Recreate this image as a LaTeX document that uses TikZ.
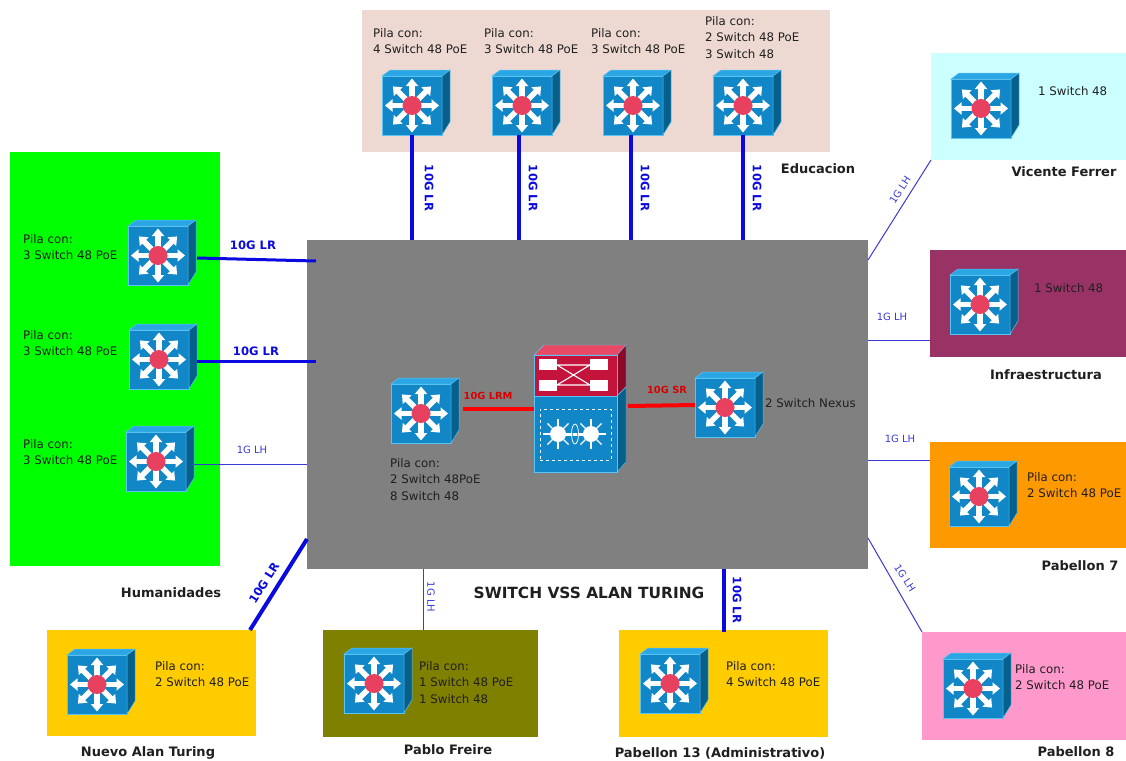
\documentclass[tikz,border=0pt]{standalone}
\usepackage{fontspec}
\setmainfont{DejaVu Sans}
\usetikzlibrary{arrows.meta}
\definecolor{swf}{HTML}{1287C7}
\definecolor{swt}{HTML}{2BA6E4}
\definecolor{sws}{HTML}{075F8C}
\definecolor{swe}{HTML}{5CC4F2}
\definecolor{hub}{HTML}{E8405F}
\definecolor{redf}{HTML}{C4143C}
\definecolor{redt}{HTML}{E84A66}
\definecolor{reds}{HTML}{8A0A28}
\definecolor{txtd}{HTML}{1F1F1F}
\definecolor{lineb}{HTML}{0A0AE0}
\definecolor{linet}{HTML}{3A3AD8}
\tikzset{
  x=1pt,y=-1pt,
  zone/.style={draw=none,inner sep=0,outer sep=0,anchor=north west},
  swnode/.style={draw=swe,line width=.8pt,fill=swf,minimum width=60pt,minimum height=59pt,inner sep=0,outer sep=0,anchor=north west},
  stk/.style={font=\fontsize{11.8}{16.5}\selectfont,text=txtd,align=left,anchor=north west,inner sep=0},
  ttl/.style={font=\bfseries\fontsize{13}{15}\selectfont,text=txtd,inner sep=0},
  spd/.style={font=\bfseries\fontsize{11.6}{13}\selectfont,text=lineb,inner sep=0},
  spdt/.style={font=\fontsize{10}{12}\selectfont,text=linet,inner sep=0},
  spdr/.style={font=\bfseries\fontsize{9.8}{12}\selectfont,text=red!85!black,inner sep=0},
  thick10/.style={draw=lineb,line width=4pt},
  mid10/.style={draw=lineb,line width=3pt},
  thin1/.style={draw=linet,line width=1pt},
  redl/.style={draw=red,line width=4pt},
  arw/.style={draw=white,line width=5.4pt,-{Triangle[width=12pt,length=7.5pt]}},
}
\newcommand{\swdev}[3]{%
  \node[swnode] (#1) at (#2,#3) {};
  \fill[swt,draw=swe,line width=.5pt] (#1.north west) -- ++(8,-6) -- ++(60,0) -- (#1.north east) -- cycle;
  \fill[sws,draw=swe,line width=.5pt] (#1.north east) -- ++(8,-6) -- ++(0,52) -- (#1.south east) -- cycle;
  \foreach \a in {0,45,...,315}{
    \draw[arw] (#1.center) -- ++(\a:27);
  }
  \fill[hub] (#1.center) circle (9.5pt);
}
\begin{document}
\begin{tikzpicture}
\useasboundingbox (0,0) rectangle (1126,760);
\fill[white] (0,0) rectangle (1126,760);
% zones
\node[zone,fill={rgb,255:red,238;green,217;blue,210},minimum width=468pt,minimum height=142pt] (zedu) at (362,10) {};
\node[zone,fill={rgb,255:red,0;green,255;blue,0},minimum width=210pt,minimum height=414pt] (zhum) at (10,152) {};
\node[zone,fill={rgb,255:red,204;green,255;blue,255},minimum width=195pt,minimum height=107pt] (zvic) at (931,53) {};
\node[zone,fill={rgb,255:red,153;green,51;blue,102},minimum width=196pt,minimum height=107pt] (zinf) at (930,250) {};
\node[zone,fill={rgb,255:red,255;green,153;blue,0},minimum width=196pt,minimum height=106pt] (zp7) at (930,442) {};
\node[zone,fill={rgb,255:red,255;green,153;blue,204},minimum width=204pt,minimum height=108pt] (zp8) at (922,632) {};
\node[zone,fill={rgb,255:red,255;green,204;blue,0},minimum width=209pt,minimum height=106pt] (znat) at (47,630) {};
\node[zone,fill={rgb,255:red,128;green,128;blue,0},minimum width=215pt,minimum height=107pt] (zpf) at (323,630) {};
\node[zone,fill={rgb,255:red,255;green,204;blue,0},minimum width=209pt,minimum height=107pt] (zp13) at (619,630) {};
\node[zone,fill={rgb,255:red,128;green,128;blue,128},minimum width=561pt,minimum height=329pt] (core) at (307,240) {};
% switches
\swdev{e1}{382}{76}\swdev{e2}{492}{76}\swdev{e3}{603}{76}\swdev{e4}{713}{76}
\swdev{h1}{128}{226}\swdev{h2}{129}{330}\swdev{h3}{126}{432}
\swdev{v1}{951}{79}\swdev{i1}{950}{275}\swdev{p7}{949}{467}\swdev{p8}{943}{659}
\swdev{n1}{67}{655}\swdev{f1}{344}{654}\swdev{a1}{640}{654}
\swdev{c1}{391}{384}\swdev{c2}{695}{378}
% central device
\fill[redt,draw=swe,line width=.4pt] (534,355) -- (544,345) -- (626,345) -- (617,355) -- cycle;
\fill[reds,draw=swe,line width=.4pt] (617,355) -- (626,345) -- (626,387) -- (617,396) -- cycle;
\fill[sws,draw=swe,line width=.4pt] (617,396) -- (626,387) -- (626,462) -- (617,472) -- cycle;
\node[zone,fill=swf,draw=swe,line width=.8pt,minimum width=83pt,minimum height=76pt] (vss) at (534,396) {};
\node[zone,fill=redf,draw=swe,line width=.5pt,minimum width=83pt,minimum height=41pt] (vsstop) at (534,355) {};
\fill[white] (539,359) rectangle (557,370);
\fill[white] (539,380) rectangle (557,391);
\fill[white] (590,359) rectangle (608,370);
\fill[white] (590,380) rectangle (608,391);
\draw[white,line width=1.1pt] (557,365) -- (590,365) (557,385) -- (590,385) (557,365) -- (590,385) (557,385) -- (590,365);
\node[zone,draw=white,dashed,line width=1pt,minimum width=71pt,minimum height=51pt] (dash) at (540,409) {};
\coordinate (sa) at (558,434);
\coordinate (sb) at (591,434);
\draw[white,line width=3pt] (sa) -- (sb);
\foreach \p in {sa,sb}{
  \foreach \a in {0,45,...,315}{\draw[white,line width=1.2pt] (\p) -- ++(\a:15);}
  \fill[white] (\p) circle (8pt);
}
\draw[swf,line width=1.2pt] (575,434) ellipse (3pt and 9pt);
\draw[white,line width=.7pt] (575,434) ellipse (3.5pt and 10pt);
% connectors
\coordinate (ce1) at (412,240);\coordinate (ce2) at (519,240);\coordinate (ce3) at (631,240);\coordinate (ce4) at (743,240);
\draw[thick10] (e1.south-|ce1) -- (ce1);
\draw[thick10] (e2.south-|ce2) -- (ce2);
\draw[thick10] (e3.south-|ce3) -- (ce3);
\draw[thick10] (e4.south-|ce4) -- (ce4);
\coordinate (ch1s) at (197,258);\coordinate (ch1) at (316,261);
\coordinate (ch2s) at (197,361);\coordinate (ch2) at (316,361);
\coordinate (ch3s) at (194,464);\coordinate (ch3) at (307,464);
\draw[mid10] (ch1s) -- (ch1);
\draw[mid10] (ch2s) -- (ch2);
\draw[thin1] (ch3s) -- (ch3);
\coordinate (cv) at (868,260);\coordinate (vv) at (931,160);
\coordinate (ci) at (868,340);\coordinate (ii) at (930,340);
\coordinate (cp7) at (868,460);\coordinate (pp7) at (930,460);
\coordinate (cp8) at (868,538);\coordinate (pp8) at (922,632);
\draw[thin1] (cv) -- (vv);
\draw[thin1] (ci) -- (ii);
\draw[thin1] (cp7) -- (pp7);
\draw[thin1] (cp8) -- (pp8);
\coordinate (cn) at (307,539);\coordinate (nn) at (250,630);
\coordinate (cf) at (423,569);\coordinate (ff) at (423,630);
\coordinate (ca) at (724,569);\coordinate (aa) at (724,632);
\draw[draw=lineb,line width=4pt] (cn) -- (nn);
\draw[thin1] (cf) -- (ff);
\draw[thick10] (ca) -- (aa);
\coordinate (rl1) at (463,409);\coordinate (rl2) at (534,409);
\draw[redl] (rl1) -- (rl2);
\coordinate (rr1) at (628,406);\coordinate (rr2) at (695,405);
\draw[redl] (rr1) -- (rr2);
% speed labels
\foreach \n/\x in {l1/429,l2/533,l3/645,l4/757}{
  \node[spd,rotate=-90] (\n) at (\x,188) {10G LR};
}
\node[spd] (lh1) at (253,245) {10G LR};
\node[spd] (lh2) at (256,351) {10G LR};
\node[spdt] (lh3) at (252,450) {1G LH};
\node[spdt,rotate=57] (lv) at (900,190) {1G LH};
\node[spdt] (li) at (892,317) {1G LH};
\node[spdt] (lp7) at (900,439) {1G LH};
\node[spdt,rotate=-57] (lp8) at (905,578) {1G LH};
\node[spd,rotate=58] (ln) at (264,583) {10G LR};
\node[spdt,rotate=-90] (lf) at (431,597) {1G LH};
\node[spd,rotate=-90] (la) at (737,600) {10G LR};
\node[spdr] (lr1) at (488,396) {10G LRM};
\node[spdr] (lr2) at (667,390) {10G SR};
% stack labels
\node[stk] (t1) at (373,28) {Pila con:\\4 Switch 48 PoE};
\node[stk] (t2) at (484,28) {Pila con:\\3 Switch 48 PoE};
\node[stk] (t3) at (591,28) {Pila con:\\3 Switch 48 PoE};
\node[stk] (t4) at (705,16) {Pila con:\\2 Switch 48 PoE\\3 Switch 48};
\node[stk] (t5) at (23,234) {Pila con:\\3 Switch 48 PoE};
\node[stk] (t6) at (23,330) {Pila con:\\3 Switch 48 PoE};
\node[stk] (t7) at (23,439) {Pila con:\\3 Switch 48 PoE};
\node[stk] (t8) at (390,458) {Pila con:\\2 Switch 48PoE\\8 Switch 48};
\node[stk] (t9) at (765,398) {2 Switch Nexus};
\node[stk] (t10) at (1038,86) {1 Switch 48};
\node[stk] (t11) at (1034,283) {1 Switch 48};
\node[stk] (t12) at (1027,472) {Pila con:\\2 Switch 48 PoE};
\node[stk] (t13) at (1015,664) {Pila con:\\2 Switch 48 PoE};
\node[stk] (t14) at (155,661) {Pila con:\\2 Switch 48 PoE};
\node[stk] (t15) at (419,661) {Pila con:\\1 Switch 48 PoE\\1 Switch 48};
\node[stk] (t16) at (726,661) {Pila con:\\4 Switch 48 PoE};
% titles
\node[ttl] (ledu) at (818,169) {Educacion};
\node[ttl] (lhum) at (171,593) {Humanidades};
\node[ttl] (lvic) at (1064,172) {Vicente Ferrer};
\node[ttl] (linf) at (1046,375) {Infraestructura};
\node[ttl] (lp7t) at (1080,566) {Pabellon 7};
\node[ttl] (lp8t) at (1076,752) {Pabellon 8};
\node[ttl] (lnat) at (148,753) {Nuevo Alan Turing};
\node[ttl] (lpf) at (448,750) {Pablo Freire};
\node[ttl] (lp13) at (720,753) {Pabellon 13 (Administrativo)};
\node[ttl,font=\bfseries\fontsize{15.4}{17}\selectfont] (lcore) at (589,593) {SWITCH VSS ALAN TURING};
\end{tikzpicture}
\end{document}
